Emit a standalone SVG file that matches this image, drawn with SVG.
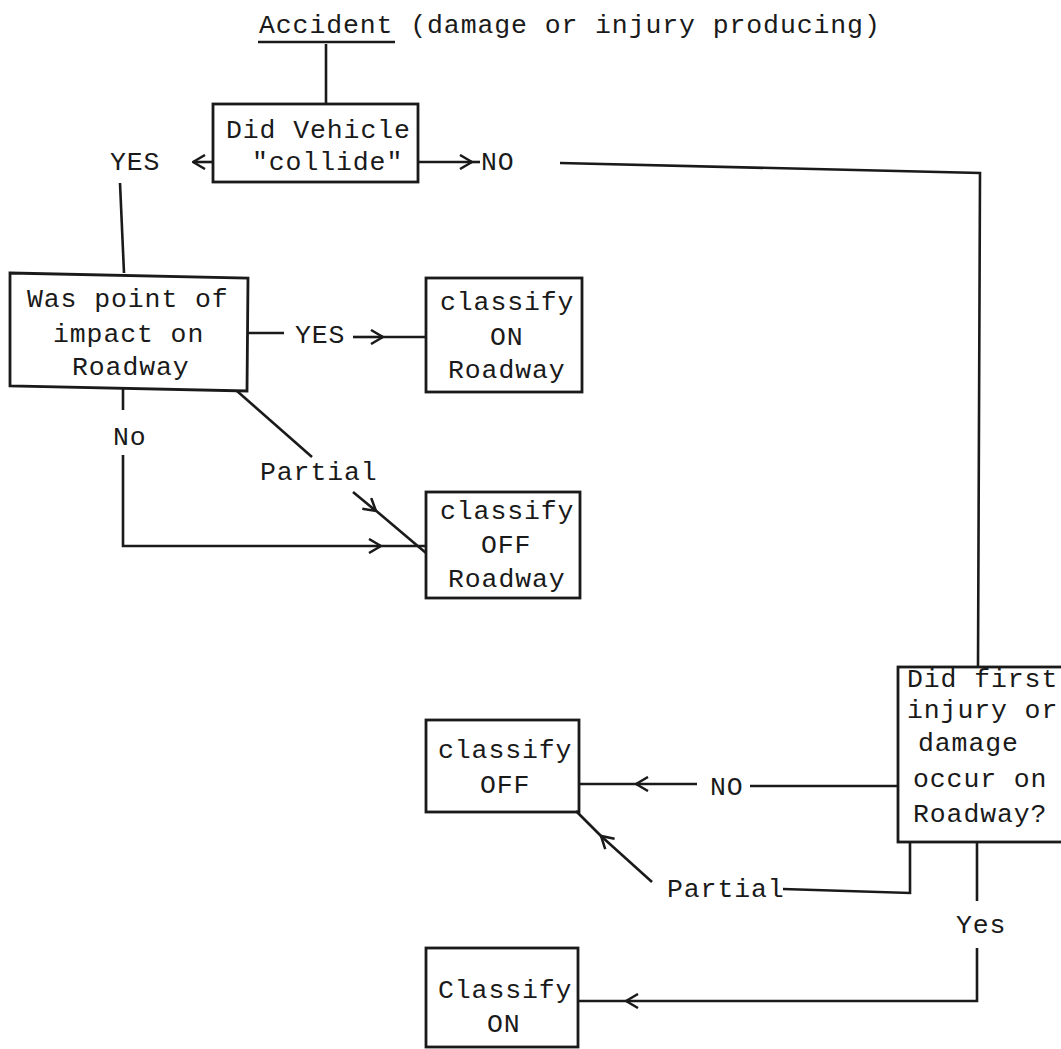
<svg xmlns="http://www.w3.org/2000/svg" width="1061" height="1049" viewBox="0 0 1061 1049">
<defs>
<marker id="ah" viewBox="0 0 14 16" refX="13" refY="8" markerWidth="14" markerHeight="16" markerUnits="userSpaceOnUse" orient="auto">
<path d="M1,1 L13,8 L1,15" fill="none" stroke="#1a1a1a" stroke-width="2.5"/>
</marker>
<style>
text{font-family:"Liberation Mono","Courier New",monospace;font-size:26.5px;letter-spacing:0.9px;fill:#1a1a1a}
.box{fill:none;stroke:#1a1a1a;stroke-width:2.8}
.ln{fill:none;stroke:#1a1a1a;stroke-width:2.6}
</style>
</defs>
<rect width="1061" height="1049" fill="#ffffff"/>

<g id="title">
<text x="259" y="33">Accident (damage or injury producing)</text>
<line class="ln" x1="258" y1="42" x2="395" y2="42"/>
</g>

<g id="n-collide">
<rect class="box" x="213" y="104" width="205" height="78"/>
<text x="226" y="138">Did Vehicle</text>
<text x="252" y="170">"collide"</text>
</g>

<g id="n-impact">
<path class="box" d="M10 273 L248 278 L247 391 L10 386 Z"/>
<text x="27" y="307">Was point of</text>
<text x="53" y="342">impact on</text>
<text x="72" y="375">Roadway</text>
</g>

<g id="n-on-roadway">
<rect class="box" x="426" y="278" width="156" height="114"/>
<text x="440" y="310">classify</text>
<text x="490" y="345">ON</text>
<text x="448" y="378">Roadway</text>
</g>

<g id="n-off-roadway">
<rect class="box" x="426" y="492" width="154" height="106"/>
<text x="440" y="519">classify</text>
<text x="481" y="553">OFF</text>
<text x="448" y="587">Roadway</text>
</g>

<g id="n-first-injury">
<rect class="box" x="898" y="667" width="180" height="175"/>
<text x="907" y="687">Did first</text>
<text x="907" y="718">injury or</text>
<text x="918" y="751">damage</text>
<text x="913" y="787">occur on</text>
<text x="913" y="822">Roadway?</text>
</g>

<g id="n-off">
<rect class="box" x="426" y="720" width="153" height="92"/>
<text x="438" y="758">classify</text>
<text x="480" y="793">OFF</text>
</g>

<g id="n-on">
<rect class="box" x="426" y="948" width="152" height="99"/>
<text x="438" y="998">Classify</text>
<text x="487" y="1032">ON</text>
</g>

<g id="connectors">
<line class="ln" x1="326" y1="44" x2="326" y2="104"/>
<line class="ln" x1="213" y1="162" x2="193" y2="162" marker-end="url(#ah)"/>
<text x="110" y="170">YES</text>
<line class="ln" x1="418" y1="162" x2="472" y2="162" marker-end="url(#ah)"/>
<line class="ln" x1="470" y1="162" x2="480" y2="162"/>
<text x="481" y="170">NO</text>
<path class="ln" d="M560 163 L980 173 L978 667"/>
<line class="ln" x1="120" y1="183" x2="124" y2="273"/>
<line class="ln" x1="248" y1="333" x2="284" y2="333"/>
<text x="295" y="343">YES</text>
<line class="ln" x1="353" y1="337" x2="383" y2="337" marker-end="url(#ah)"/>
<line class="ln" x1="380" y1="337" x2="426" y2="337"/>
<line class="ln" x1="123" y1="389" x2="123" y2="410"/>
<text x="113" y="445">No</text>
<path class="ln" d="M123 455 L123 546 L381 546" marker-end="url(#ah)"/>
<line class="ln" x1="378" y1="546" x2="426" y2="546"/>
<line class="ln" x1="237" y1="391" x2="312" y2="457"/>
<text x="260" y="480">Partial</text>
<line class="ln" x1="353" y1="492" x2="376" y2="511" marker-end="url(#ah)"/>
<line class="ln" x1="374" y1="509" x2="426" y2="553"/>
<line class="ln" x1="898" y1="786" x2="750" y2="786"/>
<text x="710" y="795">NO</text>
<line class="ln" x1="697" y1="784" x2="636" y2="784" marker-end="url(#ah)"/>
<line class="ln" x1="638" y1="784" x2="579" y2="784"/>
<path class="ln" d="M910 842 L910 893 L783 889"/>
<text x="667" y="897">Partial</text>
<line class="ln" x1="652" y1="882" x2="601" y2="836" marker-end="url(#ah)"/>
<line class="ln" x1="603" y1="838" x2="576" y2="811"/>
<line class="ln" x1="977" y1="842" x2="977" y2="901"/>
<text x="956" y="933">Yes</text>
<path class="ln" d="M977 948 L977 1001 L626 1001" marker-end="url(#ah)"/>
<line class="ln" x1="628" y1="1001" x2="578" y2="1001"/>
</g>
</svg>
